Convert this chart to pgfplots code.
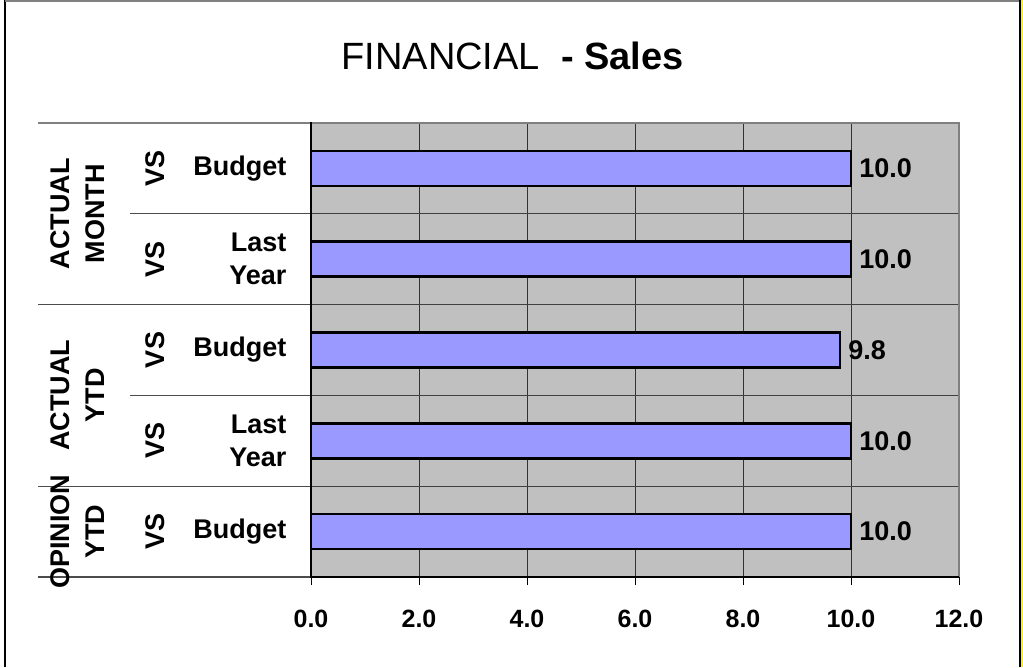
\documentclass[border=0pt]{standalone}
\usepackage{pgfplots}
\pgfplotsset{compat=1.18}
\usepackage{fontspec}
\setmainfont{Liberation Sans}
\definecolor{plotbg}{HTML}{C0C0C0}
\definecolor{barfill}{HTML}{9999FF}
\definecolor{bordergray}{HTML}{808080}
\newcommand{\lblfont}{\fontsize{27}{33}\selectfont\bfseries}
\newcommand{\grpfont}{\fontsize{27}{35}\selectfont\bfseries}
\begin{document}
\begin{tikzpicture}[x=1pt,y=1pt]
\useasboundingbox (0,0) rectangle (1023,667);
\fill[white] (0,0) rectangle (1023,667);
\begin{axis}[
  at={(311pt,90pt)}, anchor=south west, scale only axis,
  width=648pt, height=454pt,
  xbar, bar width=35pt, bar shift=0pt,
  xmin=0, xmax=12, ymin=0.5, ymax=5.5, y dir=reverse,
  axis background/.style={fill=plotbg},
  axis line style={draw=none},
  xtick={0,2,...,12}, xtick pos=bottom, tick align=outside,
  major tick length=8pt,
  ytick=\empty,
  xmajorgrids, grid style={black!80, line width=1pt},
  /pgf/number format/assume math mode=true,
  xticklabel={\pgfmathprintnumber[fixed,fixed zerofill,precision=1]{\tick}},
  xticklabel style={font=\fontsize{25}{29}\selectfont\bfseries, yshift=-22pt},
  tick style={black, line width=1pt},
  point meta=x,
  nodes near coords={\pgfmathprintnumber[fixed,fixed zerofill,precision=1]{\pgfplotspointmeta}},
  nodes near coords style={font=\fontsize{27}{32}\selectfont\bfseries, anchor=west, inner sep=7pt},
]
\addplot[fill=barfill, draw=black, line width=2.5pt] coordinates {(10,1) (10,2) (9.8,3) (10,4) (10,5)};
\end{axis}
% category separators
\draw[black!75, line width=1pt] (311,453.2) -- (959,453.2);
\draw[black!75, line width=1pt] (311,362.4) -- (959,362.4);
\draw[black!75, line width=1pt] (311,271.6) -- (959,271.6);
\draw[black!75, line width=1pt] (311,180.8) -- (959,180.8);
\draw[black!70, line width=1.2pt] (38,362.4) -- (311,362.4);
\draw[black!70, line width=1.2pt] (38,180.8) -- (311,180.8);
\draw[black!70, line width=1.2pt] (38,90) -- (311,90);
\draw[black!70, line width=1.2pt] (130,453.2) -- (311,453.2);
\draw[black!70, line width=1.2pt] (130,271.6) -- (311,271.6);
% plot border
\draw[bordergray, line width=2.5pt] (38,544) -- (959,544) -- (959,90);
\draw[black, line width=1.5pt] (311,545) -- (311,90) -- (959,90);
% category labels
\node[anchor=east, font=\lblfont] at (290,498.6) {Budget};
\node[anchor=east, font=\lblfont, align=right] at (290,407.8) {Last\\Year};
\node[anchor=east, font=\lblfont] at (290,317) {Budget};
\node[anchor=east, font=\lblfont, align=right] at (290,226.2) {Last\\Year};
\node[anchor=east, font=\lblfont] at (290,135.4) {Budget};
\foreach \yy in {498.6,407.8,317,226.2,135.4}{
  \node[rotate=90, font=\lblfont] at (155,\yy) {VS};
}
\node[rotate=90, font=\grpfont, align=center] at (78,453.2) {ACTUAL\\MONTH};
\node[rotate=90, font=\grpfont, align=center] at (78,271.6) {ACTUAL\\YTD};
\node[rotate=90, font=\grpfont, align=center] at (78,135.4) {OPINION\\YTD};
% title
\node[anchor=base, font=\fontsize{38}{44}\selectfont] at (512.5,597) {FINANCIAL\ \ \textbf{- Sales}};
% frame
\draw[black, line width=2pt] (5,0) -- (5,667);
\draw[bordergray, line width=1.5pt] (5,666.2) -- (1020,666.2);
\draw[black, line width=2.5pt] (1020,0) -- (1020,667);
\fill[yellow] (1021.3,0) rectangle (1023,667);
\end{tikzpicture}
\end{document}
